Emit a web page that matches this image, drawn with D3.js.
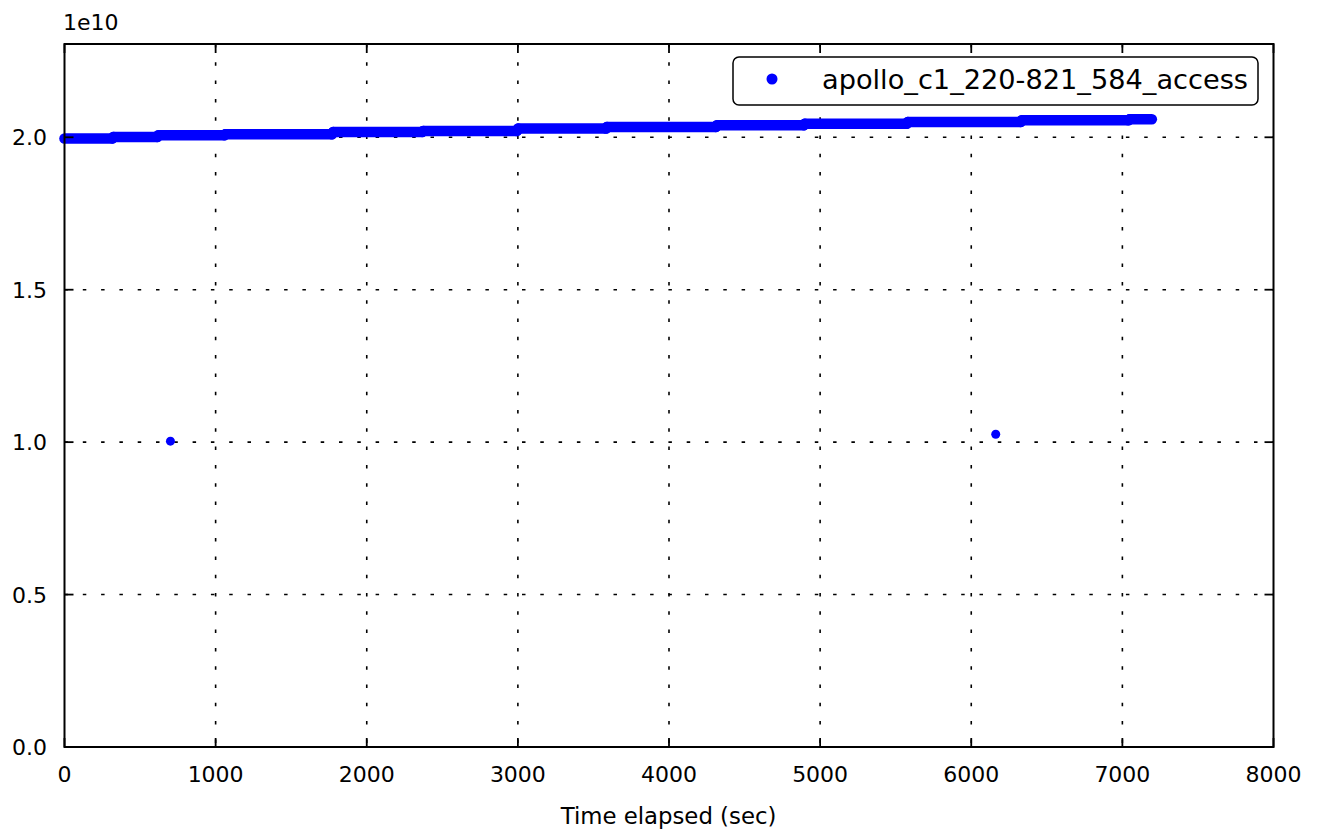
<!DOCTYPE html>
<html>
<head>
<meta charset="utf-8">
<script src="https://cdn.jsdelivr.net/npm/d3@7"></script>
<style>
  html, body { margin: 0; padding: 0; background: #fff; }
  svg { display: block; }
  text { font-family: "DejaVu Sans", sans-serif; fill: #000; }
</style>
</head>
<body>
<svg id="chart" width="1317" height="832"></svg>
<script>
// ---- data ----
const seriesName = "apollo_c1_220-821_584_access";
// step segments of the dense series: start time, end time, level (bytes)
const stepStart = [0, 324, 621, 1064, 1778, 2373, 3001, 3590, 4317, 4899, 5580, 6334, 7048];
const stepEnd   = [316, 614, 1057, 1770, 2366, 2994, 3583, 4310, 4892, 5573, 6327, 7041, 7195];
const stepLevel = [1.996e10, 2.001e10, 2.0066e10, 2.0098e10, 2.0174e10, 2.021e10, 2.0285e10,
                   2.0338e10, 2.0393e10, 2.0443e10, 2.0502e10, 2.0557e10, 2.059e10];
// isolated samples
const outlierX = [701, 6162];
const outlierY = [1.0033e10, 1.026e10];
// axes
const xTicks = [0, 1000, 2000, 3000, 4000, 5000, 6000, 7000, 8000];
const yTicks = [0, 0.5e10, 1.0e10, 1.5e10, 2.0e10];
const yTickLabels = ["0.0", "0.5", "1.0", "1.5", "2.0"];
const xLabel = "Time elapsed (sec)";
const yOffsetLabel = "1e10";

// ---- layout ----
const L = 64.5, R = 1273.5, T = 44, B = 747;
const x = d3.scaleLinear().domain([0, 8000]).range([L, R]);
const y = d3.scaleLinear().domain([0, 2.306e10]).range([B, T]);
const svg = d3.select("#chart");
const blue = "#0000ff";

// grid
const grid = svg.append("g");
grid.selectAll("line.gx").data(xTicks.filter(d => d > 0 && d < 8000)).join("line")
  .attr("x1", d => x(d)).attr("x2", d => x(d)).attr("y1", T).attr("y2", B)
  .attr("stroke", "#000").attr("stroke-width", 1.6).attr("stroke-dasharray", "3.5,14.8");
grid.selectAll("line.gy").data(yTicks.filter(d => d > 0)).join("line")
  .attr("y1", d => y(d)).attr("y2", d => y(d)).attr("x1", L).attr("x2", R)
  .attr("stroke", "#000").attr("stroke-width", 1.6).attr("stroke-dasharray", "3.5,14.8");

// data: dense step band
const steps = stepStart.map((s, i) => ({ s, e: stepEnd[i], v: stepLevel[i] }));
svg.append("g").selectAll("line").data(steps).join("line")
  .attr("x1", d => x(d.s)).attr("x2", d => x(d.e))
  .attr("y1", d => y(d.v)).attr("y2", d => y(d.v))
  .attr("stroke", blue).attr("stroke-width", 10.5).attr("stroke-linecap", "round");
// connect steps (samples during transitions)
svg.append("g").selectAll("line").data(steps.slice(1)).join("line")
  .attr("x1", (d, i) => x(steps[i].e)).attr("y1", (d, i) => y(steps[i].v))
  .attr("x2", d => x(d.s)).attr("y2", d => y(d.v))
  .attr("stroke", blue).attr("stroke-width", 10.5).attr("stroke-linecap", "round");

// outliers
svg.append("g").selectAll("circle").data(outlierX.map((d, i) => [d, outlierY[i]])).join("circle")
  .attr("cx", d => x(d[0])).attr("cy", d => y(d[1])).attr("r", 4.5).attr("fill", blue);

// ticks (inside, all four sides)
const tk = svg.append("g").attr("stroke", "#000").attr("stroke-width", 1.8);
xTicks.forEach(d => {
  tk.append("line").attr("x1", x(d)).attr("x2", x(d)).attr("y1", B).attr("y2", B - 9);
  tk.append("line").attr("x1", x(d)).attr("x2", x(d)).attr("y1", T).attr("y2", T + 9);
});
yTicks.forEach(d => {
  tk.append("line").attr("y1", y(d)).attr("y2", y(d)).attr("x1", L).attr("x2", L + 9);
  tk.append("line").attr("y1", y(d)).attr("y2", y(d)).attr("x1", R).attr("x2", R - 9);
});

// frame
svg.append("rect").attr("x", L).attr("y", T).attr("width", R - L).attr("height", B - T)
  .attr("fill", "none").attr("stroke", "#000").attr("stroke-width", 2);

// tick labels
svg.append("g").selectAll("text").data(xTicks).join("text")
  .attr("x", d => x(d)).attr("y", 782).attr("text-anchor", "middle")
  .attr("font-size", 22).text(d => d);
svg.append("g").selectAll("text").data(yTicks).join("text")
  .attr("x", 47).attr("y", d => y(d) + 8).attr("text-anchor", "end")
  .attr("font-size", 22).text((d, i) => yTickLabels[i]);
svg.append("text").attr("x", 63).attr("y", 30).attr("font-size", 22).text(yOffsetLabel);

// axis label
svg.append("text").attr("x", 668.5).attr("y", 824).attr("text-anchor", "middle")
  .attr("font-size", 22.8).text(xLabel);

// legend
const lg = svg.append("g");
lg.append("rect").attr("x", 733).attr("y", 57).attr("width", 525).attr("height", 48).attr("rx", 6)
  .attr("fill", "#fff").attr("stroke", "#000").attr("stroke-width", 1.5);
lg.append("circle").attr("cx", 772).attr("cy", 79).attr("r", 5.5).attr("fill", blue);
lg.append("text").attr("x", 822).attr("y", 89).attr("font-size", 27.2).text(seriesName);
</script>
</body>
</html>
